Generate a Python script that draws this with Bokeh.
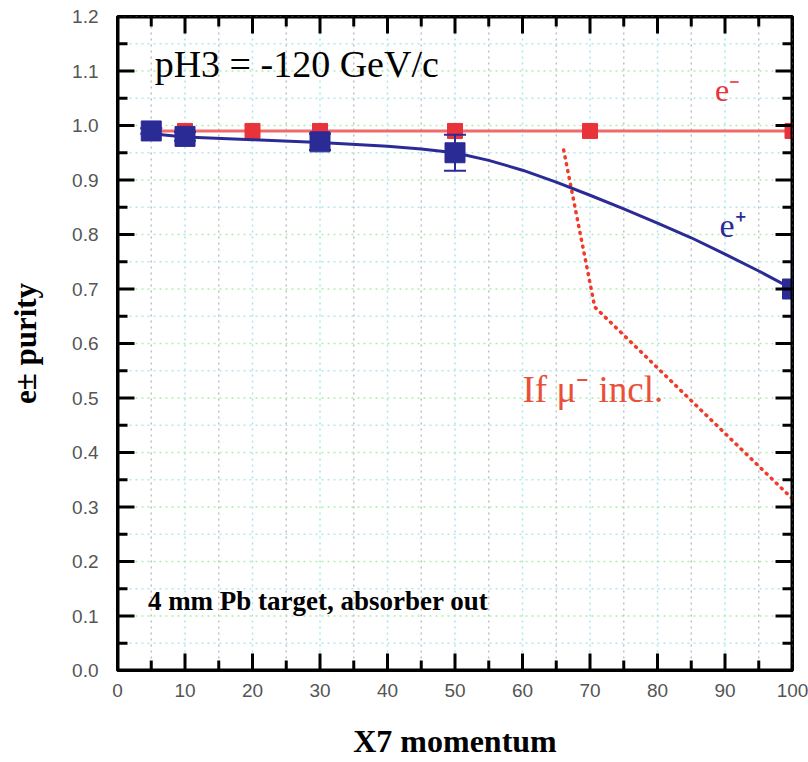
from bokeh.plotting import figure
from bokeh.models import Label, FixedTicker, NumeralTickFormatter, Range1d
from bokeh.embed import file_html
from bokeh.resources import INLINE

# ---- data ----
elec_x = [5, 10, 20, 30, 50, 70, 100]
elec_y = [0.99, 0.99, 0.99, 0.99, 0.99, 0.99, 0.99]

pos_x = [5, 10, 30, 50, 100]
pos_y = [0.99, 0.98, 0.97, 0.95, 0.70]
pos_err = [0.005, 0.008, 0.015, 0.033, 0.10]

fit_x = [5, 10, 20, 30, 40, 45, 50, 55, 60, 65, 70, 75, 80, 85, 90, 95, 100]
fit_y = [0.985, 0.979, 0.974, 0.969, 0.962, 0.957, 0.950, 0.936, 0.918,
         0.896, 0.872, 0.847, 0.821, 0.794, 0.764, 0.733, 0.700]

mu_x = [66.1, 70.7, 100]
mu_y = [0.955, 0.667, 0.315]

x_major = [0, 10, 20, 30, 40, 50, 60, 70, 80, 90, 100]
x_minor = [5, 15, 25, 35, 45, 55, 65, 75, 85, 95]
y_major = [0.0, 0.1, 0.2, 0.3, 0.4, 0.5, 0.6, 0.7, 0.8, 0.9, 1.0, 1.1, 1.2]
y_minor = [0.05, 0.15, 0.25, 0.35, 0.45, 0.55, 0.65, 0.75, 0.85, 0.95, 1.05, 1.15]

SERIF = "Liberation Serif"
SANS = "Liberation Sans"
RED = "#e8333a"
RED_LINE = "#f06a6a"
BLUE = "#2b2b96"

X0, X1, Y0, Y1 = 0, 100, 0.0, 1.2
FRAME_W = 675   # frame width in px (808-117-16)

def dx(px):
    return px * (X1 - X0) / FRAME_W

p = figure(width=808, height=762, output_backend="svg", toolbar_location=None,
           x_range=Range1d(X0, X1), y_range=Range1d(Y0, Y1),
           min_border_left=117, min_border_right=16, min_border_top=16,
           min_border_bottom=92)
p.outline_line_color = "black"
p.outline_line_width = 3
p.grid.visible = False

p.xaxis.ticker = FixedTicker(ticks=x_major, minor_ticks=x_minor)
p.yaxis.ticker = FixedTicker(ticks=y_major, minor_ticks=y_minor)
p.yaxis.formatter = NumeralTickFormatter(format="0.0")

for ax in (p.xaxis[0], p.yaxis[0]):
    ax.axis_line_color = "black"
    ax.axis_line_width = 3
    ax.major_tick_in = 0
    ax.major_tick_out = 0
    ax.minor_tick_in = 0
    ax.minor_tick_out = 0
    ax.major_label_text_font = SANS
    ax.major_label_text_font_size = "19px"
    ax.major_label_text_color = "#555555"
    ax.axis_label_text_font = SERIF
    ax.axis_label_text_font_style = "bold"
    ax.axis_label_text_color = "black"

p.xaxis.major_label_standoff = 13
p.yaxis.major_label_standoff = 19
p.xaxis.axis_label = "X7 momentum"
p.xaxis.axis_label_text_font_size = "32px"
p.xaxis.axis_label_standoff = 23
p.yaxis.axis_label = "e\u00b1 purity"
p.yaxis.axis_label_text_font_size = "31px"
p.yaxis.axis_label_standoff = 26

# dotted grid drawn as glyphs (first, so everything else lies on top)
def vgrid(ticks, color):
    n = len(ticks)
    p.segment(x0=ticks, y0=[Y0] * n, x1=ticks, y1=[Y1] * n,
              line_color=color, line_width=1.5, line_dash="2 4")

def hgrid(ticks, color):
    n = len(ticks)
    p.segment(x0=[X0] * n, y0=ticks, x1=[X1] * n, y1=ticks,
              line_color=color, line_width=1.5, line_dash="2 4")

vgrid(x_major, "#a6e6ea")
vgrid(x_minor, "#c0c0c8")
hgrid(y_major, "#b0ecb0")
hgrid(y_minor, "#b0e8ee")

# e- series
p.line(elec_x, elec_y, line_color=RED_LINE, line_width=3)
p.scatter(elec_x[1:], elec_y[1:], marker="square", size=15,
          fill_color=RED, line_color=RED)

# mu-included dotted line
p.line(mu_x, mu_y, line_color="#f03a2a", line_width=3.5, line_dash="1 6",
       line_cap="round")

# e+ fit, error bars and points
p.line(fit_x, fit_y, line_color=BLUE, line_width=3)
lower = [y - e for y, e in zip(pos_y, pos_err)]
upper = [y + e for y, e in zip(pos_y, pos_err)]
cap = dx(11)
p.segment(x0=pos_x, y0=lower, x1=pos_x, y1=upper, line_color=BLUE, line_width=2)
p.segment(x0=[x - cap for x in pos_x], y0=lower, x1=[x + cap for x in pos_x], y1=lower,
          line_color=BLUE, line_width=2)
p.segment(x0=[x - cap for x in pos_x], y0=upper, x1=[x + cap for x in pos_x], y1=upper,
          line_color=BLUE, line_width=2)
p.scatter(pos_x, pos_y, marker="square", size=20, fill_color=BLUE, line_color=BLUE)

# frame edges and inward ticks as filled bars (half of each bar lies outside and is clipped)
blk = dict(fill_color="black", line_color=None)
p.rect(x=[X0, X1], y=[(Y0 + Y1) / 2] * 2, width=4, height=Y1 - Y0,
       width_units="screen", height_units="data", **blk)
p.rect(x=[(X0 + X1) / 2] * 2, y=[Y0, Y1], width=X1 - X0, height=4,
       width_units="data", height_units="screen", **blk)
for ticks, L in ((x_major, 34), (x_minor, 20)):
    n = len(ticks)
    for yb in (Y0, Y1):
        p.rect(x=ticks, y=[yb] * n, width=3, height=L,
               width_units="screen", height_units="screen", **blk)
for ticks, L in ((y_major, 34), (y_minor, 20)):
    n = len(ticks)
    for xb in (X0, X1):
        p.rect(x=[xb] * n, y=ticks, width=L, height=3,
               width_units="screen", height_units="screen", **blk)

# annotations
p.add_layout(Label(x=5.5, y=1.075, text="pH3 = -120 GeV/c", text_font=SERIF,
                   text_font_size="38px", text_color="black"))
p.add_layout(Label(x=88.5, y=1.032, text="e\u207b", text_font=SERIF,
                   text_font_size="32px", text_color=RED))
p.add_layout(Label(x=89.2, y=0.782, text="e\u207a", text_font=SERIF,
                   text_font_size="34px", text_color=BLUE))
p.add_layout(Label(x=60, y=0.478, text="If \u03bc\u207b incl.", text_font=SERIF,
                   text_font_size="37px", text_color="#e8503a"))
p.add_layout(Label(x=4.5, y=0.1, text="4 mm Pb target, absorber out", text_font=SERIF,
                   text_font_style="bold", text_font_size="27px", text_color="black"))

open("out.html", "w").write(file_html(p, INLINE))
